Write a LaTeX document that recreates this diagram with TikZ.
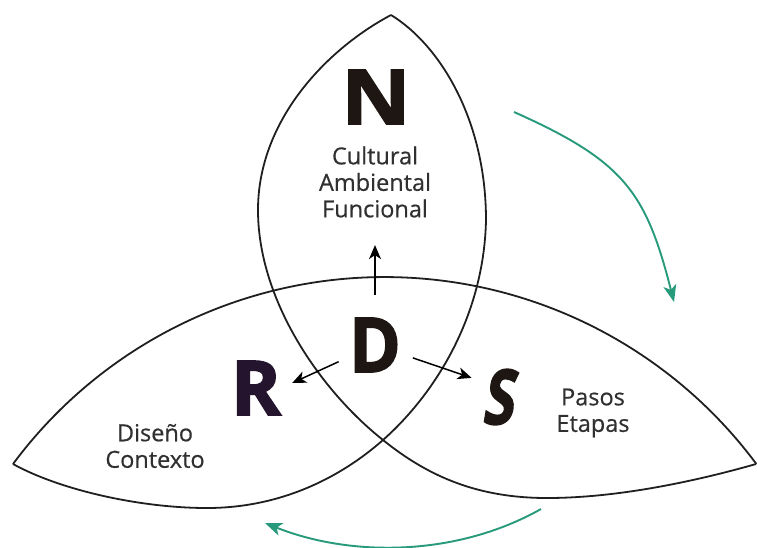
\documentclass[tikz,border=0pt]{standalone}
\usepackage{fontspec}
\setmainfont[FakeBold=0.5]{Open Sans}
\newfontfamily\heavyfont[FakeBold=2]{Open Sans}
\newfontfamily\heavyslant[FakeBold=2,FakeSlant=0.22]{Open Sans}
\usetikzlibrary{arrows.meta, positioning, calc}
\definecolor{cyclegreen}{RGB}{38,154,122}
\definecolor{letterink}{RGB}{30,22,18}
\definecolor{rink}{RGB}{36,20,46}
\definecolor{wordgray}{RGB}{48,48,48}

\tikzset{
  lens/.style={line width=1.8pt, draw=black!88, line join=miter},
  pointer/.style={-{Stealth[length=14pt,width=12pt,inset=4pt]}, line width=1.5pt},
  turnarrow/.style={-{Stealth[length=17pt,width=13pt,inset=4.5pt]}, line width=1.9pt, cyclegreen},
  letter/.style={inner sep=0pt, font=\heavyfont\bfseries\fontsize{76}{76}\selectfont, text=letterink},
  words/.style={align=center, font=\fontsize{23.5}{26.5}\selectfont, text=wordgray},
}

\begin{document}
\begin{tikzpicture}[x=1pt, y=-1pt]
  \useasboundingbox (0,0) rectangle (757,547);
  \coordinate (top) at (391,15);
  \coordinate (lefttip) at (13,464);
  \coordinate (righttip) at (756,464);
  \coordinate (cross) at (383,440);

  \draw[lens] (top) .. controls (327,49) and (258,120) .. (258,210)
    .. controls (258,300) and (320,390) .. (cross)
    .. controls (430,478) and (480,498) .. (547,498)
    .. controls (620,498) and (700,480) .. (righttip);
  \draw[lens] (top) .. controls (440,45) and (486,120) .. (486,220)
    .. controls (484,315) and (436,393) .. (cross)
    .. controls (340,478) and (280,508) .. (207,508)
    .. controls (140,508) and (60,490) .. (lefttip);
  \draw[lens] (lefttip) arc[start angle=216.6, end angle=323.4, radius=463];

  \node[letter] (N) at (376,97) {\scalebox{1.12}[1]{N}};
  \node[words] (ntext) at (375,182) {Cultural\\Ambiental\\Funcional};
  \node[letter] (D) at (375,345) {\scalebox{0.92}[1]{D}};
  \node[letter, text=rink] (R) at (256,388) {R};
  \node[letter, font=\heavyslant\bfseries\fontsize{76}{76}\selectfont] (S) at (497,397) {\scalebox{0.75}[1]{S}};
  \node[words] (stext) at (593,413) {Pasos\\Etapas};
  \node[words] (rtext) at (155,446) {Diseño\\Contexto};

  \draw[pointer, shorten <=50pt, shorten >=24pt] (D.center) -- (D.center |- ntext.south);
  \draw[pointer, shorten <=40pt, shorten >=12pt] (D.center) -- (R.east);
  \draw[pointer, shorten <=40pt, shorten >=10pt] (D.center) -- (S.135);

  \draw[turnarrow] (514,112) .. controls (624,161) and (646,192) .. (674,302);
  \draw[turnarrow] (541,509) .. controls (456,557) and (350,557) .. (265,523);
\end{tikzpicture}
\end{document}
